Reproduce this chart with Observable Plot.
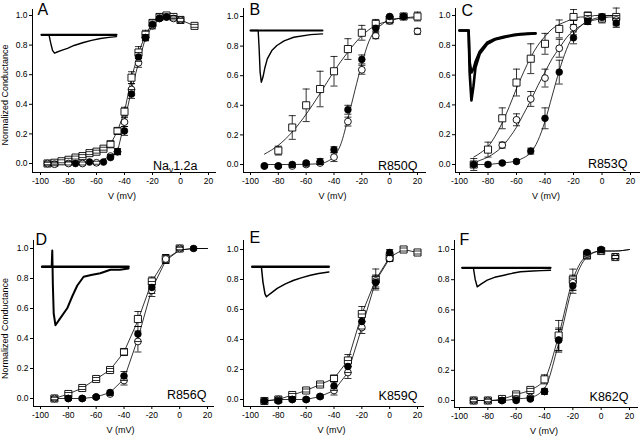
<!DOCTYPE html>
<html><head><meta charset="utf-8">
<script src="https://cdn.jsdelivr.net/npm/d3@7"></script>
<script src="https://cdn.jsdelivr.net/npm/@observablehq/plot@0.6"></script>
<style>
body{margin:0;background:#fff;}
#fig{position:relative;width:640px;height:438px;overflow:hidden;background:#fff;font-family:"Liberation Sans",Arial,sans-serif;}
#fig svg{position:absolute;left:0;top:0;overflow:visible;background:transparent;}
</style></head><body><div id="fig"></div>
<script>
// ---------- axis ticks ----------
const xTicks = [-100, -80, -60, -40, -20, 0, 20];
const yTicks = [0, 0.2, 0.4, 0.6, 0.8, 1.0];

// ---------- Panel A : Nav1.2a ----------
const voltsA = [-95,-90,-85,-80,-75,-70,-65,-60,-55,-50,-45,-40,-35,-30,-25,-20,-15,-10,-5,0,5,10];
const squaresA = [0.0,0.005,0.015,0.025,0.04,0.05,0.07,0.08,0.10,0.13,0.22,0.35,0.58,0.75,0.87,0.95,0.99,1.0,0.99,0.97,null,0.93];
const squaresErrA = [0.01,0.01,0.01,0.01,0.01,0.01,0.01,0.01,0.01,0.02,0.02,0.03,0.04,0.04,0.03,0.02,0.02,0.01,0.01,0.02,null,0.01];
const openA = [0.0,-0.005,null,0.0,null,0.0,null,0.005,null,0.05,0.08,0.28,0.50,0.68,0.85,0.93,0.98,0.99,0.98,0.97,null,null];
const openErrA = [0.01,0.01,null,0.01,null,0.01,null,0.01,null,0.01,0.02,0.03,0.04,0.03,0.02,0.02,0.01,0.01,0.01,0.01,null,null];
const filledA = [null,null,null,null,0.0,null,0.01,null,0.01,0.04,0.08,0.22,0.47,0.72,0.85,0.94,0.98,0.99,null,null,null,null];
const filledErrA = [null,null,null,null,0,null,0,null,0,0.01,0.02,0.03,0.03,0.03,0.02,0.01,0.01,0.01,null,null,null,null];
const traceTimeA = [0,3,3.6,4.4,5.2,6,8,10.4,13,16.8,20,23.6,27,30];
const traceCurrentA = [0,0,-0.4,-0.85,-1,-0.95,-0.85,-0.74,-0.58,-0.42,-0.3,-0.2,-0.14,-0.1];

// ---------- Panel B : R850Q ----------
const voltsB = [-90,-80,-70,-60,-50,-40,-30,-20,-10,0,10,20];
const squaresB = [null,0.094,0.25,0.40,0.51,0.63,0.78,0.89,0.95,0.98,1.0,1.0];
const squaresErrB = [null,0.03,0.08,0.11,0.12,0.10,0.07,0.05,0.03,0.02,0.01,0.03];
const openB = [-0.01,-0.01,-0.01,0.0,0.01,0.05,0.29,0.64,0.87,0.97,1.0,0.90];
const openErrB = [0.01,0.01,0.01,0.01,0.01,0.03,0.03,0.03,0.02,0.02,0.01,0.02];
const filledB = [-0.01,-0.01,0.0,0.01,0.02,0.10,0.37,0.71,0.92,1.0,1.0,null];
const filledErrB = [0.01,0.01,0.01,0.01,0.02,0.02,0.03,0.03,0.02,0.01,0.01,null];
const fitSqVoltsB = [-90,-80,-70,-60,-50,-40,-30,-20,-10,0,10,20];
const fitSqB = [0.07,0.13,0.22,0.34,0.48,0.63,0.76,0.87,0.94,0.97,0.99,0.99];
const fitCircVoltsB = [-90,-70,-50,-45,-40,-35,-30,-25,-20,-15,-10,-5,0,10,20];
const fitCircB = [0.0,0.0,0.005,0.02,0.055,0.14,0.31,0.50,0.68,0.83,0.91,0.95,0.98,0.99,1.0];
const traceTimeB = [0,3.2,3.6,4,4.5,5.2,6,7,9,11,14,18,25,30];
const traceCurrentB = [0,0,-0.35,-0.8,-1,-0.9,-0.72,-0.55,-0.38,-0.29,-0.2,-0.13,-0.08,-0.065];

// ---------- Panel C : R853Q ----------
const voltsC = [-90,-80,-70,-60,-50,-40,-30,-20,-10,0,10];
const squaresC = [0.0,0.10,0.31,0.55,0.71,0.81,0.91,0.99,1.0,0.98,0.99];
const squaresErrC = [0.01,0.05,0.07,0.09,0.10,0.07,0.06,0.05,0.02,0.03,0.06];
const openC = [null,null,0.13,0.30,0.44,0.58,0.78,0.92,0.97,0.99,0.97];
const openErrC = [null,null,0.02,0.04,0.05,0.06,0.06,0.05,0.03,0.02,0.03];
const filledC = [0.0,0.0,0.01,0.02,0.09,0.31,0.62,0.85,0.96,0.99,0.95];
const filledErrC = [0.04,0.01,0.01,0.01,0.02,0.07,0.08,0.04,0.02,0.01,0.03];
const fitVoltsC = [-90,-85,-80,-75,-70,-65,-60,-55,-50,-45,-40,-35,-30,-25,-20,-15,-10,-5,0,5,10];
const fitSqC = [0.05,0.08,0.12,0.19,0.28,0.39,0.51,0.62,0.72,0.80,0.86,0.91,0.94,0.96,0.98,0.99,0.99,1.0,1.0,1.0,1.0];
const fitOpenC = [0.01,0.03,0.05,0.08,0.12,0.18,0.25,0.34,0.43,0.53,0.62,0.71,0.78,0.85,0.90,0.93,0.96,0.97,0.98,0.99,0.99];
const fitFilledC = [0.0,0.0,0.0,0.005,0.01,0.015,0.025,0.045,0.08,0.16,0.29,0.46,0.63,0.77,0.87,0.93,0.96,0.98,0.99,1.0,1.0];
const traceTimeC = [0,3.6,4,4.7,5.5,6.3,8,11,14,17.4,21,24,27,30];
const traceCurrentC1 = [0,0,-0.6,-1,-0.8,-0.53,-0.33,-0.19,-0.13,-0.1,-0.07,-0.057,-0.05,-0.043];
const traceCurrentC2 = [0,0,-0.45,-0.6,-0.55,-0.45,-0.3,-0.17,-0.12,-0.09,-0.065,-0.05,-0.045,-0.04];

// ---------- Panel D : R856Q ----------
const voltsD = [-90,-80,-70,-60,-50,-40,-30,-20,-10,0,10];
const squaresD = [0.0,0.03,0.07,0.13,0.19,0.31,0.53,0.78,0.93,1.0,null];
const squaresErrD = [0.01,0.01,0.01,0.01,0.01,0.02,0.05,0.03,0.03,0.01,null];
const openD = [0.0,0.0,0.0,0.01,0.03,0.12,0.38,0.72,0.93,1.0,null];
const openErrD = [0.01,0.01,0.01,0.01,0.01,0.03,0.07,0.04,0.03,0.01,null];
const filledD = [null,0.0,0.0,0.01,0.04,0.15,0.43,0.74,null,null,1.0];
const filledErrD = [null,0.01,0.01,0.01,0.01,0.03,0.05,0.04,null,null,0.01];
const lineVoltsD = [-90,-80,-70,-60,-50,-40,-30,-20,-10,0,10,20];
const lineSqD = [0.0,0.03,0.07,0.13,0.19,0.31,0.52,0.78,0.93,0.99,1.0,1.0];
const lineCircD = [0.0,0.0,0.0,0.01,0.04,0.13,0.40,0.73,0.92,0.99,1.0,1.0];
const traceTimeD = [0,3.3,3.5,3.7,4,4.6,6,8.7,10.5,12.2,14.4,17,20.2,23.7,27,30];
const traceCurrentD = [0,0,0.28,-0.3,-0.8,-1,-0.9,-0.71,-0.5,-0.32,-0.17,-0.14,-0.11,-0.05,-0.05,-0.03];

// ---------- Panel E : K859Q ----------
const voltsE = [-90,-80,-70,-60,-50,-40,-30,-20,-10,0,10,20];
const squaresE = [-0.01,0.0,0.03,0.06,0.10,0.14,0.26,0.57,0.80,0.95,1.0,0.98];
const squaresErrE = [0.01,0.01,0.01,0.01,0.01,0.02,0.04,0.05,0.07,0.03,0.01,0.01];
const openE = [-0.01,0.0,0.0,0.0,0.02,0.06,0.18,0.48,0.79,0.94,null,null];
const openErrE = [0.01,0.01,0.01,0.01,0.01,0.03,0.04,0.04,0.04,0.02,null,null];
const filledE = [-0.01,-0.01,0.0,0.0,0.02,0.09,0.22,0.52,0.78,0.98,null,null];
const filledErrE = [0.01,0.01,0.01,0.01,0.01,0.03,0.04,0.05,0.04,0.02,null,null];
const traceTimeE = [0,3.6,4.2,5,5.6,7,9.8,13,16.3,19.5,22.8,26,30];
const traceCurrentE = [0,0,-0.5,-0.9,-1,-0.9,-0.72,-0.57,-0.45,-0.36,-0.28,-0.22,-0.17];

// ---------- Panel F : K862Q ----------
const voltsF = [-90,-80,-70,-60,-50,-40,-30,-20,-10,0,10];
const squaresF = [0.0,0.0,0.01,0.04,0.07,0.14,0.43,0.80,0.96,0.99,0.95];
const squaresErrF = [0.01,0.01,0.01,0.01,0.01,0.03,0.10,0.07,0.02,0.01,0.01];
const openF = [0.0,0.0,0.0,0.01,0.02,0.06,0.40,0.78,0.97,0.99,0.95];
const openErrF = [0.01,0.01,0.01,0.01,0.01,0.02,0.08,0.05,0.02,0.01,0.01];
const filledF = [null,null,0.0,0.0,0.01,0.06,0.40,0.76,0.98,1.0,null];
const filledErrF = [null,null,0.01,0.01,0.01,0.01,0.07,0.05,0.01,0.01,null];
const lineVoltsF = [-90,-80,-70,-60,-50,-40,-30,-20,-10,0,10,20];
const lineSqF = [0.0,0.0,0.01,0.04,0.07,0.14,0.43,0.80,0.96,0.99,0.99,1.0];
const lineCircF = [0.0,0.0,0.0,0.01,0.02,0.08,0.38,0.76,0.95,0.99,0.99,1.0];
const traceTimeF = [0,3.8,4.4,5.1,6.5,8.5,11,14.2,17,19.8,24,27,30];
const traceCurrentF = [0,0,-0.6,-1,-0.85,-0.65,-0.5,-0.39,-0.29,-0.21,-0.17,-0.15,-0.13];

const baselineTime = [0, 30];
const baselineCurrent = [0, 0];

// ---------- panel options (layout) ----------
const panels = [
  {letter:"A", name:"Nav1.2a", left:0, top:0, H:218, frame:[32,9,215,172], xRange:[40,208], yRange:[163,15],
   letterD:[5,-6], nameD:[-18,-7], xLabDx:-2, yLab:[-27,4],
   volts:voltsA, squares:squaresA, squaresErr:squaresErrA, open:openA, openErr:openErrA, filled:filledA, filledErr:filledErrA,
   lines:[{volts:voltsA, values:squaresA}, {volts:voltsA, values:openA}],
   inset:{tx:[41,116], ty:[52.7,34.3], traces:[{t:baselineTime, i:baselineCurrent, w:2.2}, {t:traceTimeA, i:traceCurrentA, w:1.4}]}},
  {letter:"B", name:"R850Q", left:210, top:0, H:218, frame:[33,8,215,172], xRange:[40,207], yRange:[164,16],
   letterD:[6,-5], nameD:[-8,-7], xLabDx:-2,
   volts:voltsB, squares:squaresB, squaresErr:squaresErrB, open:openB, openErr:openErrB, filled:filledB, filledErr:filledErrB,
   lines:[{volts:fitSqVoltsB, values:fitSqB, curve:"monotone-x"}, {volts:fitCircVoltsB, values:fitCircB, curve:"monotone-x"}],
   inset:{tx:[40,112], ty:[81.7,30], traces:[{t:baselineTime, i:baselineCurrent, w:2}, {t:traceTimeB, i:traceCurrentB, w:1.4}]}},
  {letter:"C", name:"R853Q", left:420, top:0, H:218, frame:[35,8,220,172], xRange:[39,210], yRange:[164,15],
   letterD:[6,-4], nameD:[-13,-9], xLabDx:-2,
   volts:voltsC, squares:squaresC, squaresErr:squaresErrC, open:openC, openErr:openErrC, filled:filledC, filledErr:filledErrC,
   lines:[{volts:fitVoltsC, values:fitSqC, curve:"monotone-x"}, {volts:fitVoltsC, values:fitOpenC, curve:"monotone-x"}, {volts:fitVoltsC, values:fitFilledC, curve:"monotone-x"}],
   inset:{tx:[39,115], ty:[100,30], traces:[{t:traceTimeC, i:traceCurrentC2, w:2.6}, {t:traceTimeC, i:traceCurrentC1, w:2.6}]}},
  {letter:"D", name:"R856Q", left:0, top:218, H:220, frame:[33,22,213,188], xRange:[40,207], yRange:[180,30],
   letterD:[2,-7], nameD:[-7,-12], xLabDx:-3, yLab:[-28,5],
   volts:voltsD, squares:squaresD, squaresErr:squaresErrD, open:openD, openErr:openErrD, filled:filledD, filledErr:filledErrD,
   lines:[{volts:lineVoltsD, values:lineSqD}, {volts:lineVoltsD, values:lineCircD}],
   inset:{tx:[41.7,128], ty:[106.7,48.3], traces:[{t:baselineTime, i:baselineCurrent, w:2.6}, {t:traceTimeD, i:traceCurrentD, w:2}]}},
  {letter:"E", name:"K859Q", left:210, top:218, H:220, frame:[33,22,213,188], xRange:[40,207], yRange:[181,31],
   letterD:[6,-9], nameD:[-6,-11], xLabDx:-2,
   volts:voltsE, squares:squaresE, squaresErr:squaresErrE, open:openE, openErr:openErrE, filled:filledE, filledErr:filledErrE,
   lines:[{volts:voltsE, values:squaresE}, {volts:voltsE, values:openE}],
   inset:{tx:[41.7,118.3], ty:[78.3,48.3], traces:[{t:baselineTime, i:baselineCurrent, w:2.4}, {t:traceTimeE, i:traceCurrentE, w:1.5}]}},
  {letter:"F", name:"K862Q", left:420, top:218, H:220, frame:[34,22,217,189], xRange:[39,209], yRange:[182,31],
   letterD:[5,-7], nameD:[-9,-11], xLabDx:-2,
   volts:voltsF, squares:squaresF, squaresErr:squaresErrF, open:openF, openErr:openErrF, filled:filledF, filledErr:filledErrF,
   lines:[{volts:lineVoltsF, values:lineSqF, curve:"monotone-x"}, {volts:lineVoltsF, values:lineCircF, curve:"monotone-x"}],
   inset:{tx:[41.7,130], ty:[68.3,49.3], traces:[{t:baselineTime, i:baselineCurrent, w:2.2}, {t:traceTimeF, i:traceCurrentF, w:1.4}]}}
];

const capSymbol = {draw(ctx, size) { const w = Math.sqrt(size) / 2; ctx.moveTo(-w, 0); ctx.lineTo(w, 0); }};
const W = 222;
const fig = document.getElementById("fig");
const FONT = "'Liberation Sans', Arial, Helvetica, sans-serif";

function drawPanel(p) {
  const box = document.createElement("div");
  box.style.cssText = `position:absolute;left:${p.left}px;top:${p.top}px;width:${W}px;height:${p.H}px;`;
  fig.appendChild(box);
  const rows = (vals, errs) => p.volts.map((v, i) => ({v, y: vals[i], e: errs && errs[i] != null ? errs[i] : 0})).filter(d => d.y != null);
  const sq = rows(p.squares, p.squaresErr), op = rows(p.open, p.openErr), fi = rows(p.filled, p.filledErr);
  const errs = [...sq, ...op, ...fi].filter(d => d.e > 0);
  const caps = errs.flatMap(d => [{v: d.v, y: d.y - d.e}, {v: d.v, y: d.y + d.e}]);
  const lineMarks = p.lines.map(L => Plot.line(
    L.volts.map((v, i) => ({v, y: L.values[i]})).filter(d => d.y != null),
    {x: "v", y: "y", stroke: "black", strokeWidth: 0.8, curve: L.curve || "linear"}));
  const [fl, ft, fr, fb] = p.frame;
  const marks = [
    Plot.frame({anchor: "left", stroke: "black", strokeWidth: 1}),
    Plot.frame({anchor: "bottom", stroke: "black", strokeWidth: 1}),
    Plot.axisX({ticks: xTicks, tickSize: 3, tickPadding: 2, tickFormat: d => String(d), label: null, fontSize: 8.5}),
    Plot.axisY({ticks: yTicks, tickSize: 3, tickPadding: 2, tickFormat: d3.format(".1f"), label: null, fontSize: 8.5}),
    ...lineMarks,
    Plot.ruleX(errs, {x: "v", y1: d => d.y - d.e, y2: d => d.y + d.e, stroke: "black", strokeWidth: 0.8}),
    Plot.dot(sq, {x: "v", y: "y", symbol: "square", r: 4, fill: "white", stroke: "black", strokeWidth: 0.9}),
    Plot.dot(op, {x: "v", y: "y", r: 3.4, fill: "white", stroke: "black", strokeWidth: 0.9}),
    Plot.dot(fi, {x: "v", y: "y", r: 3.4, fill: "black", stroke: "black", strokeWidth: 0.6}),
    Plot.dot(caps, {x: "v", y: "y", symbol: capSymbol, r: 4, fill: "none", stroke: "black", strokeWidth: 0.8}),
    Plot.text([p.letter], {frameAnchor: "top-left", text: d => d, textAnchor: "start", lineAnchor: "top", dx: p.letterD[0], dy: p.letterD[1], fontSize: 16}),
    Plot.text([p.name], {frameAnchor: "bottom-right", text: d => d, textAnchor: "end", lineAnchor: "middle", dx: p.nameD[0], dy: p.nameD[1], fontSize: 12.5}),
    Plot.text(["V (mV)"], {frameAnchor: "bottom", text: d => d, textAnchor: "middle", lineAnchor: "middle", dx: p.xLabDx, dy: 24, fontSize: 9})
  ];
  if (p.yLab) marks.push(Plot.text(["Normalized Conductance"], {frameAnchor: "left", text: d => d, rotate: -90, textAnchor: "middle", lineAnchor: "middle", dx: p.yLab[0], dy: p.yLab[1], fontSize: 9}));
  const svg = Plot.plot({
    width: W, height: p.H,
    marginLeft: fl, marginTop: ft, marginRight: W - fr, marginBottom: p.H - fb,
    x: {domain: [-100, 20], range: p.xRange},
    y: {domain: [0, 1], range: p.yRange},
    style: {fontFamily: FONT, fontSize: "8.5px", background: "transparent", overflow: "visible", color: "black"},
    marks
  });
  box.appendChild(svg);

  // current-trace inset, drawn with its own time / current scales
  const ins = p.inset;
  const insetMarks = ins.traces.map(tr => Plot.line(tr.t.map((t, i) => ({t, c: tr.i[i]})),
    {x: "t", y: "c", stroke: "black", strokeWidth: tr.w, strokeLinejoin: "round"}));
  const insetSvg = Plot.plot({
    width: W, height: p.H, margin: 0,
    x: {domain: [0, 30], range: ins.tx, axis: null},
    y: {domain: [-1, 0], range: ins.ty, axis: null},
    style: {background: "transparent", overflow: "visible"},
    marks: insetMarks
  });
  box.appendChild(insetSvg);

  // subscript "v" in Nav1.2a
  d3.select(svg).selectAll("text").filter(function() { return this.textContent === "Nav1.2a"; }).each(function() {
    const t = d3.select(this);
    t.text(null);
    t.append("tspan").text("Na");
    t.append("tspan").attr("dy", 3).attr("font-size", 8.5).text("v");
    t.append("tspan").attr("dy", -3).text("1.2a");
  });
}

panels.forEach(drawPanel);
</script>
</body></html>
